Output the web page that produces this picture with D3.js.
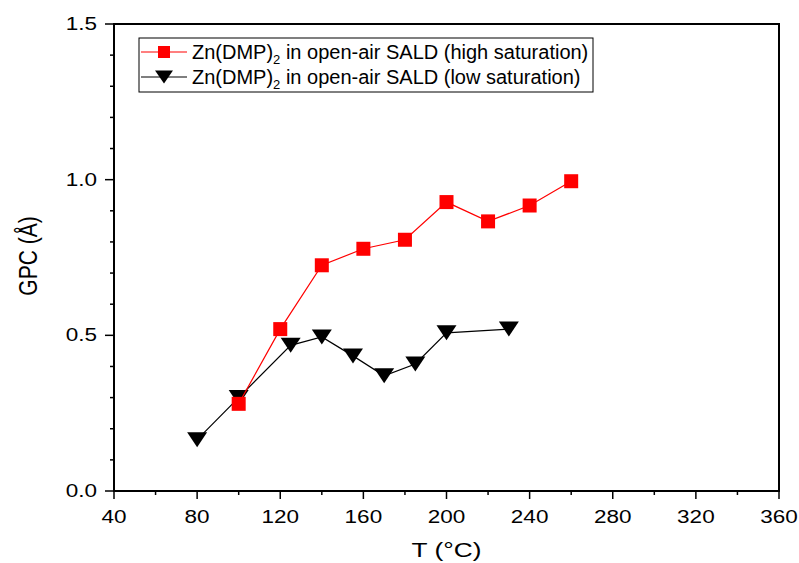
<!DOCTYPE html>
<html>
<head>
<meta charset="utf-8">
<script src="https://cdn.jsdelivr.net/npm/d3@7"></script>
<style>
  html, body { margin: 0; padding: 0; background: #fff; }
  svg { display: block; }
  text { font-family: "Liberation Sans", Arial, sans-serif; fill: #000; }
</style>
</head>
<body>
<svg id="chart" width="799" height="563"></svg>
<script>
// Growth per cycle vs deposition temperature
const highSatT   = [100, 120, 140, 160, 180, 200, 220, 240, 260];
const highSatGPC = [0.28, 0.52, 0.725, 0.778, 0.807, 0.928, 0.866, 0.917, 0.995];
const lowSatT    = [80, 100, 125, 140, 155, 170, 185, 200, 230];
const lowSatGPC  = [0.165, 0.30, 0.468, 0.495, 0.434, 0.37, 0.408, 0.508, 0.52];
const xTicks = [40, 80, 120, 160, 200, 240, 280, 320, 360];
const yTicks = [0.0, 0.5, 1.0, 1.5];
const seriesNames = [
  "in open-air SALD (high saturation)",
  "in open-air SALD (low saturation)"
];

const svg = d3.select("#chart");
const plotL = 114, plotR = 779, plotT = 24, plotB = 491;
const stretch = 1.25; // text is drawn slightly wide

const x = d3.scaleLinear().domain([40, 360]).range([plotL, plotR]);
const y = d3.scaleLinear().domain([0, 1.5]).range([plotB, plotT]);

// frame
svg.append("rect")
  .attr("x", plotL).attr("y", plotT)
  .attr("width", plotR - plotL).attr("height", plotB - plotT)
  .attr("fill", "none").attr("stroke", "#000").attr("stroke-width", 2);

// x axis
const xMinor = d3.range(40, 361, 20);
const gx = svg.append("g").attr("transform", `translate(0,${plotB})`);
gx.selectAll("line").data(xMinor).join("line")
  .attr("x1", d => x(d)).attr("x2", d => x(d))
  .attr("y1", 0).attr("y2", d => xTicks.includes(d) ? 8 : 4)
  .attr("stroke", "#000").attr("stroke-width", 1.5);
gx.selectAll("text").data(xTicks).join("text")
  .attr("transform", d => `translate(${x(d)},32) scale(${stretch},1)`)
  .attr("text-anchor", "middle")
  .attr("font-size", 18)
  .text(d => d);

// y axis
const yMinor = d3.range(0, 16).map(i => i / 10);
const gy = svg.append("g").attr("transform", `translate(${plotL},0)`);
gy.selectAll("line").data(yMinor).join("line")
  .attr("y1", d => y(d)).attr("y2", d => y(d))
  .attr("x1", 0).attr("x2", (d, i) => i % 5 === 0 ? -9 : -4)
  .attr("stroke", "#000").attr("stroke-width", 1.5);
gy.selectAll("text").data(yTicks).join("text")
  .attr("transform", d => `translate(-17,${y(d) + 6}) scale(${stretch},1)`)
  .attr("text-anchor", "end")
  .attr("font-size", 18)
  .text(d => d.toFixed(1));

// axis titles
svg.append("text")
  .attr("transform", `translate(${(plotL + plotR) / 2},557) scale(${stretch},1)`)
  .attr("text-anchor", "middle").attr("font-size", 21)
  .text("T (°C)");
svg.append("text")
  .attr("transform", `translate(37,256) rotate(-90) scale(1,${stretch})`)
  .attr("text-anchor", "middle").attr("font-size", 21)
  .text("GPC (Å)");

const line = d3.line();
const tri = (cx, cy, w, h) => `M${cx - w / 2},${cy - h / 2}L${cx + w / 2},${cy - h / 2}L${cx},${cy + h / 2}Z`;

// low saturation series
const lowPts = lowSatT.map((t, i) => [x(t), y(lowSatGPC[i])]);
svg.append("path").attr("d", line(lowPts))
  .attr("fill", "none").attr("stroke", "#000").attr("stroke-width", 1.2);
svg.selectAll("path.tri").data(lowPts).join("path")
  .attr("class", "tri")
  .attr("d", p => tri(p[0], p[1], 20, 15))
  .attr("fill", "#000");

// high saturation series
const highPts = highSatT.map((t, i) => [x(t), y(highSatGPC[i])]);
svg.append("path").attr("d", line(highPts))
  .attr("fill", "none").attr("stroke", "#ff0000").attr("stroke-width", 1.2);
svg.selectAll("rect.sq").data(highPts).join("rect")
  .attr("class", "sq")
  .attr("x", p => p[0] - 7).attr("y", p => p[1] - 7)
  .attr("width", 14).attr("height", 14)
  .attr("fill", "#ff0000");

// legend
const lg = svg.append("g");
lg.append("rect").attr("x", 139).attr("y", 38).attr("width", 454).attr("height", 54)
  .attr("fill", "#fff").attr("stroke", "#000").attr("stroke-width", 1);
const rows = [
  { yc: 52, color: "#ff0000", shape: "square" },
  { yc: 77, color: "#000", shape: "tri" }
];
rows.forEach((r, i) => {
  lg.append("line").attr("x1", 141).attr("x2", 187).attr("y1", r.yc).attr("y2", r.yc)
    .attr("stroke", r.color).attr("stroke-width", 1.2);
  if (r.shape === "square") {
    lg.append("rect").attr("x", 158).attr("y", r.yc - 6).attr("width", 12).attr("height", 12)
      .attr("fill", r.color);
  } else {
    lg.append("path").attr("d", tri(164, r.yc, 18, 13)).attr("fill", r.color);
  }
  const t = lg.append("text").attr("x", 192).attr("y", r.yc + 7).attr("font-size", 20);
  t.append("tspan").text("Zn(DMP)");
  t.append("tspan").attr("font-size", 13).attr("dy", 5).text("2");
  t.append("tspan").attr("dy", -5).text(" " + seriesNames[i]);
});
</script>
</body>
</html>
